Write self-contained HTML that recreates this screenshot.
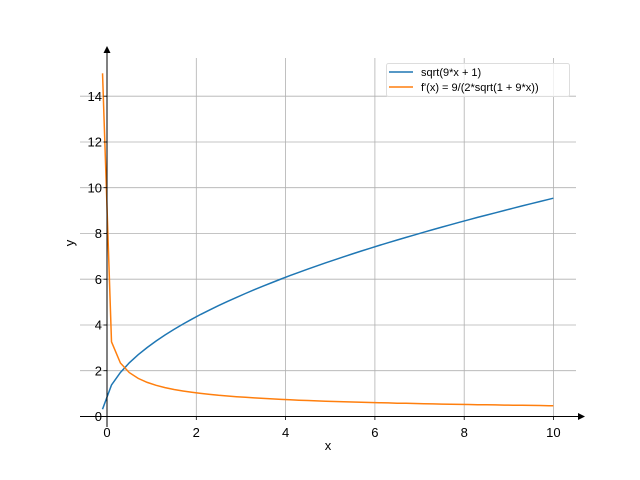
<!DOCTYPE html>
<html><head><meta charset="utf-8"><style>
html,body{margin:0;padding:0;background:#fff;}
svg{display:block;font-family:"Liberation Sans","DejaVu Sans",sans-serif;}
</style></head><body>
<svg id="s" width="640" height="480" xmlns="http://www.w3.org/2000/svg">
<g stroke="#b0b0b0" stroke-width="0.8">
<line x1="196.3" y1="58" x2="196.3" y2="416.5"/>
<line x1="285.6" y1="58" x2="285.6" y2="416.5"/>
<line x1="374.9" y1="58" x2="374.9" y2="416.5"/>
<line x1="464.2" y1="58" x2="464.2" y2="416.5"/>
<line x1="553.4" y1="58" x2="553.4" y2="416.5"/>
<line x1="80" y1="370.7" x2="576" y2="370.7"/>
<line x1="80" y1="325" x2="576" y2="325"/>
<line x1="80" y1="279.2" x2="576" y2="279.2"/>
<line x1="80" y1="233.5" x2="576" y2="233.5"/>
<line x1="80" y1="187.7" x2="576" y2="187.7"/>
<line x1="80" y1="142" x2="576" y2="142"/>
<line x1="80" y1="96.2" x2="576" y2="96.2"/>
</g>
<polyline id="b" fill="none" stroke="#1f77b4" stroke-width="1.5"/>
<polyline id="o" fill="none" stroke="#ff7f0e" stroke-width="1.5"/>
<g stroke="#000" stroke-width="1">
<line x1="80" y1="416.5" x2="580" y2="416.5"/>
<line x1="107" y1="427" x2="107" y2="52"/>
</g>
<polygon points="585,416.5 578,413 578,420" fill="#000"/>
<polygon points="107,46 103.5,53 110.5,53" fill="#000"/>
<g stroke="#000" stroke-width="0.8">
<line x1="107" y1="416.5" x2="107" y2="420"/>
<line x1="196.3" y1="416.5" x2="196.3" y2="420"/>
<line x1="285.6" y1="416.5" x2="285.6" y2="420"/>
<line x1="374.9" y1="416.5" x2="374.9" y2="420"/>
<line x1="464.2" y1="416.5" x2="464.2" y2="420"/>
<line x1="553.4" y1="416.5" x2="553.4" y2="420"/>
<line x1="103.5" y1="416.5" x2="107" y2="416.5"/>
<line x1="103.5" y1="370.7" x2="107" y2="370.7"/>
<line x1="103.5" y1="325" x2="107" y2="325"/>
<line x1="103.5" y1="279.2" x2="107" y2="279.2"/>
<line x1="103.5" y1="233.5" x2="107" y2="233.5"/>
<line x1="103.5" y1="187.7" x2="107" y2="187.7"/>
<line x1="103.5" y1="142" x2="107" y2="142"/>
<line x1="103.5" y1="96.2" x2="107" y2="96.2"/>
</g>
<g font-size="13" fill="#000" text-anchor="middle">
<text x="107" y="437">0</text>
<text x="196.3" y="437">2</text>
<text x="285.6" y="437">4</text>
<text x="374.9" y="437">6</text>
<text x="464.2" y="437">8</text>
<text x="553.4" y="437">10</text>
</g>
<g font-size="13" fill="#000" text-anchor="end">
<text x="102" y="421">0</text>
<text x="102" y="375.5">2</text>
<text x="102" y="329.5">4</text>
<text x="102" y="284">6</text>
<text x="102" y="238">8</text>
<text x="102" y="192.5">10</text>
<text x="102" y="146.5">12</text>
<text x="102" y="101">14</text>
</g>
<text x="328" y="450" font-size="13" text-anchor="middle">x</text>
<text x="74" y="243" font-size="13" text-anchor="middle" transform="rotate(-90 74 243)">y</text>
<rect x="386.5" y="63.5" width="183" height="33" rx="2" fill="#fff" fill-opacity="0.8" stroke="#ddd"/>
<line x1="389" y1="72" x2="413" y2="72" stroke="#1f77b4" stroke-width="1.5"/>
<line x1="389" y1="87" x2="413" y2="87" stroke="#ff7f0e" stroke-width="1.5"/>
<text x="421" y="76" font-size="11">sqrt(9*x + 1)</text>
<text x="421" y="91" font-size="11">f'(x) = 9/(2*sqrt(1 + 9*x))</text>
<script>
var X=function(x){return 107+x*44.64},Y=function(y){return 416.5-y*22.88};
var b=[],o=[];
for(var i=0;i<=51;i++){var x=-0.1+i*0.2;if(x>10)x=10;b.push(X(x).toFixed(1)+','+Y(Math.sqrt(9*x+1)).toFixed(1));}
o.push(X(-0.1)+','+Y(15));
for(var i=1;i<=51;i++){var x=-0.1+i*0.2;if(x>10)x=10;o.push(X(x).toFixed(1)+','+Y(9/(2*Math.sqrt(1+9*x))).toFixed(1));}
document.getElementById('b').setAttribute('points',b.join(' '));
document.getElementById('o').setAttribute('points',o.join(' '));
</script>
</svg>
</body></html>
